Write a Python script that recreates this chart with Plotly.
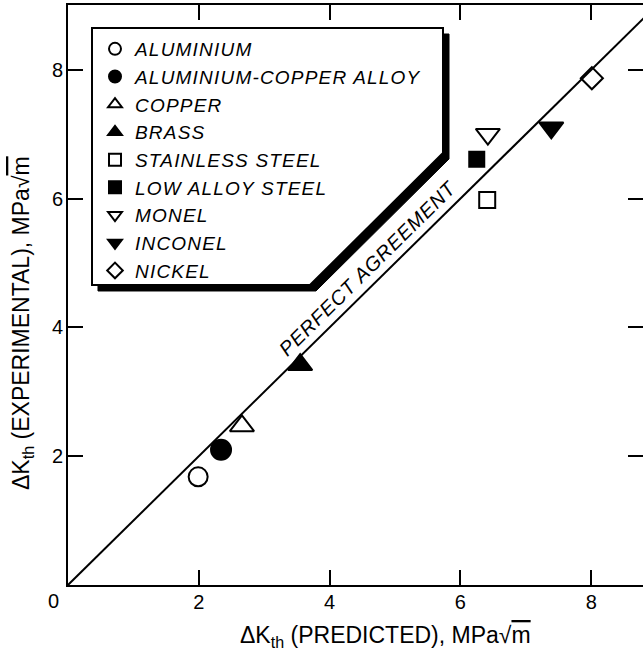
import plotly.graph_objects as go

# ---- data ----
materials = ["ALUMINIUM", "ALUMINIUM-COPPER ALLOY", "COPPER", "BRASS",
             "STAINLESS STEEL", "LOW ALLOY STEEL", "MONEL", "INCONEL", "NICKEL"]
predicted = [1.99, 2.34, 2.66, 3.55, 6.41, 6.25, 6.42, 7.39, 8.01]
experimental = [1.68, 2.10, 2.47, 3.42, 5.98, 6.61, 7.00, 7.10, 7.87]
symbols = ["circle-open", "circle", "triangle-up-open", "triangle-up",
           "square-open", "square", "triangle-down-open", "triangle-down", "diamond-open"]
marker_sizes = [19, 20, 21, 21, 16, 15, 21, 21, 17]
perfect_line = [0, 9.5]
x_ticks = [2, 4, 6, 8]
y_ticks = [2, 4, 6, 8]

W, H = 643, 652
L, R, T, B = 68, 0, 5, 67
PW, PH = W - L - R, H - T - B
XMAX = PW / 65.4
YMAX = PH / 64.4

def px(x):
    return (x - L) / PW

def py(y):
    return (H - B - y) / PH

FONT = "Liberation Sans, Arial, Helvetica, sans-serif"

def spaced(s, ls=1.2):
    return f'<span style="letter-spacing:{ls}px">{s}</span>'

fig = go.Figure()

fig.add_trace(go.Scatter(
    x=perfect_line, y=perfect_line, mode="lines",
    line=dict(color="black", width=2), showlegend=False, hoverinfo="skip"))

for name, xv, yv, sym, sz in zip(materials, predicted, experimental, symbols, marker_sizes):
    fig.add_trace(go.Scatter(
        x=[xv], y=[yv], mode="markers", name=spaced(name),
        marker=dict(symbol=sym, size=sz, color="black",
                    line=dict(color="black", width=2))))

# legend frame with shadow
box = [(92, 28), (443, 28), (443, 153), (310, 285), (92, 285)]
def path_of(pts, dx=0, dy=0):
    s = ""
    for i, (a, b) in enumerate(pts):
        s += ("M" if i == 0 else "L") + f"{px(a + dx):.5f},{py(b + dy):.5f} "
    return s + "Z"

shapes = [
    dict(type="path", xref="paper", yref="paper", path=path_of(box, 6, 6),
         fillcolor="black", line=dict(color="black", width=1), layer="above"),
    dict(type="path", xref="paper", yref="paper", path=path_of(box),
         fillcolor="white", line=dict(color="black", width=2), layer="above"),
]

sqrt_m = "√<span style='text-decoration:overline'>m</span>"
annotations = [
    dict(text=spaced("PERFECT AGREEMENT", 0.8), x=4.587, y=4.92, xref="x", yref="y",
         showarrow=False, textangle=-44.6, xanchor="center", yanchor="middle",
         font=dict(family=FONT, size=20, color="black", style="italic")),
    dict(text="ΔK<sub>th</sub> (PREDICTED), MPa" + sqrt_m, x=px(385), y=py(636),
         xref="paper", yref="paper", showarrow=False, xanchor="center", yanchor="middle",
         font=dict(family=FONT, size=23, color="black")),
    dict(text="ΔK<sub>th</sub> (EXPERIMENTAL), MPa" + sqrt_m, x=px(22), y=py(323),
         xref="paper", yref="paper", showarrow=False, textangle=-90,
         xanchor="center", yanchor="middle",
         font=dict(family=FONT, size=23, color="black")),
    dict(text="0", x=px(53), y=py(601), xref="paper", yref="paper",
         showarrow=False, xanchor="center", yanchor="middle",
         font=dict(family=FONT, size=20, color="black")),
]

fig.update_layout(
    width=W, height=H,
    margin=dict(l=L, r=R, t=T, b=B, pad=0),
    paper_bgcolor="white", plot_bgcolor="white",
    font=dict(family=FONT, color="black"),
    shapes=shapes, annotations=annotations,
    showlegend=True,
    legend=dict(x=px(95), y=py(30), xanchor="left", yanchor="top",
                bgcolor="rgba(0,0,0,0)", borderwidth=0,
                itemsizing="constant",
                font=dict(family=FONT, size=19, color="black", style="italic")),
    xaxis=dict(range=[0, XMAX], tickvals=x_ticks, showgrid=False, zeroline=False,
               showline=True, linecolor="black", linewidth=2, mirror="ticks",
               ticks="inside", ticklen=15, tickwidth=2, tickcolor="black",
               tickfont=dict(family=FONT, size=20, color="black"),
               ticklabelstandoff=-2),
    yaxis=dict(range=[0, YMAX], tickvals=y_ticks, showgrid=False, zeroline=False,
               showline=True, linecolor="black", linewidth=2, mirror=False,
               ticks="inside", ticklen=15, tickwidth=2, tickcolor="black",
               tickfont=dict(family=FONT, size=20, color="black"),
               ticklabelstandoff=-1),
    yaxis2=dict(range=[0, YMAX], tickvals=y_ticks, overlaying="y", side="right",
                showgrid=False, zeroline=False, showline=False,
                ticks="inside", ticklen=15, tickwidth=2, tickcolor="black",
                showticklabels=False),
)
# invisible helper trace so the right-hand tick axis is drawn
fig.add_trace(go.Scatter(x=[0], y=[0], yaxis="y2", mode="markers",
                         marker=dict(opacity=0), showlegend=False, hoverinfo="skip"))

fig.write_html("out.html", config={"displayModeBar": False},
               post_script="document.body.style.margin='0px';")
